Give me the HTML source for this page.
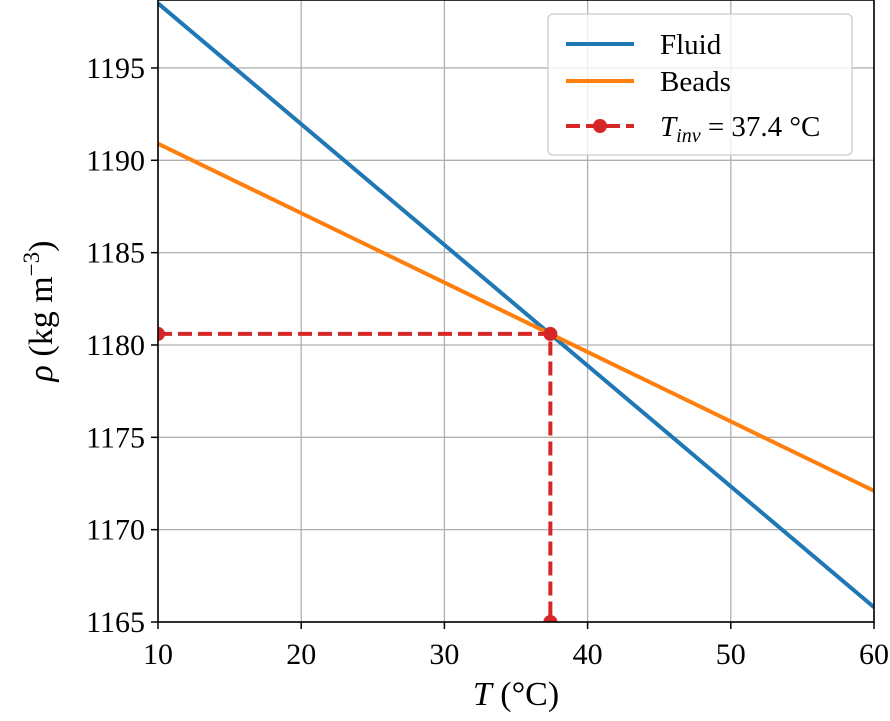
<!DOCTYPE html>
<html><head><meta charset="utf-8"><style>
body{margin:0;background:#fff;}
svg text{font-family:"Liberation Serif",serif;fill:#000;}
</style></head><body>
<svg id="chart" width="890" height="716" xmlns="http://www.w3.org/2000/svg"></svg>
<script>
const xTicks=[10,20,30,40,50,60];
const yTicks=[1165,1170,1175,1180,1185,1190,1195];
const tRange=[10,60];
const fluidRho=[1198.5,1165.8];
const beadsRho=[1190.9,1172.1];
const tInv=37.4;
const rhoInv=1180.6;
const X0=158,X1=874,Y0=622,Y1=0;
const xMin=10,xMax=60,yMin=1165,yMax=1198.68;
const sx=v=>X0+(v-xMin)/(xMax-xMin)*(X1-X0);
const sy=v=>Y0-(v-yMin)/(yMax-yMin)*(Y0-Y1);
const svg=document.getElementById('chart');
const NS='http://www.w3.org/2000/svg';
function mk(tag,attrs,parent){const e=document.createElementNS(NS,tag);for(const k in attrs)e.setAttribute(k,attrs[k]);(parent||svg).appendChild(e);return e;}
xTicks.forEach(t=>{const l=mk('line',{x1:sx(t),x2:sx(t),y1:Y1,y2:Y0,stroke:'#b0b0b0','stroke-width':1.3});


const tk=mk('line',{x1:sx(t),x2:sx(t),y1:Y0,y2:Y0+7,stroke:'#000','stroke-width':1.5});


const tx=mk('text',{x:sx(t),y:Y0+42,'text-anchor':'middle','font-size':30});tx.textContent=t;

});
yTicks.forEach(t=>{const l=mk('line',{x1:X0,x2:X1,y1:sy(t),y2:sy(t),stroke:'#b0b0b0','stroke-width':1.3});


const tk=mk('line',{x1:X0-7,x2:X0,y1:sy(t),y2:sy(t),stroke:'#000','stroke-width':1.5});


const tx=mk('text',{x:X0-13,y:sy(t)+10,'text-anchor':'end','font-size':30});tx.textContent=t;

});
const g=mk('g',{'clip-path':'url(#clip)'});
const defs=mk('defs',{});const cp=mk('clipPath',{id:'clip'},defs);mk('rect',{x:X0,y:Y1,width:X1-X0,height:Y0-Y1},cp);
const f=mk('line',{x1:sx(tRange[0]),y1:sy(fluidRho[0]),x2:sx(tRange[1]),y2:sy(fluidRho[1]),stroke:'#1f77b4','stroke-width':4},g);


const b=mk('line',{x1:sx(tRange[0]),y1:sy(beadsRho[0]),x2:sx(tRange[1]),y2:sy(beadsRho[1]),stroke:'#ff7f0e','stroke-width':4},g);


const d=mk('polyline',{points:`${sx(xMin)},${sy(rhoInv)} ${sx(tInv)},${sy(rhoInv)} ${sx(tInv)},${sy(yMin)}`,fill:'none',stroke:'#d62728','stroke-width':4,'stroke-dasharray':'14,6'},g);


[[xMin,rhoInv],[tInv,rhoInv],[tInv,yMin]].forEach(p=>{const c=mk('circle',{cx:sx(p[0]),cy:sy(p[1]),r:7,fill:'#d62728'},g);

});
const fr=mk('rect',{x:X0,y:Y1,width:X1-X0,height:Y0-Y1,fill:'none',stroke:'#000','stroke-width':1.6});


</script>
<svg width="890" height="716" style="position:absolute;left:0;top:0" xmlns="http://www.w3.org/2000/svg">
<text x="516" y="705" text-anchor="middle" font-size="34"><tspan font-style="italic">T</tspan> (°C)</text>
<text transform="translate(52,311) rotate(-90)" text-anchor="middle" font-size="34"><tspan font-style="italic">ρ</tspan> (kg m<tspan dy="-13" font-size="23">−3</tspan><tspan dy="13">)</tspan></text>
<g>
<rect x="548" y="14" width="304" height="141" rx="5" fill="#fff" fill-opacity="0.8" stroke="#ccc" stroke-width="1.3"/>
<line x1="566" y1="44" x2="634" y2="44" stroke="#1f77b4" stroke-width="4"/>
<text x="660" y="54" font-size="29">Fluid</text>
<line x1="566" y1="81" x2="634" y2="81" stroke="#ff7f0e" stroke-width="4"/>
<text x="660" y="91" font-size="29">Beads</text>
<line x1="566" y1="126" x2="634" y2="126" stroke="#d62728" stroke-width="4" stroke-dasharray="14,6"/>
<circle cx="600" cy="126" r="7" fill="#d62728"/>
<text x="660" y="136" font-size="29"><tspan font-style="italic">T</tspan><tspan font-style="italic" font-size="20" dy="6">inv</tspan><tspan dy="-6"> = 37.4 °C</tspan></text>
</g>
</svg>
</body></html>
